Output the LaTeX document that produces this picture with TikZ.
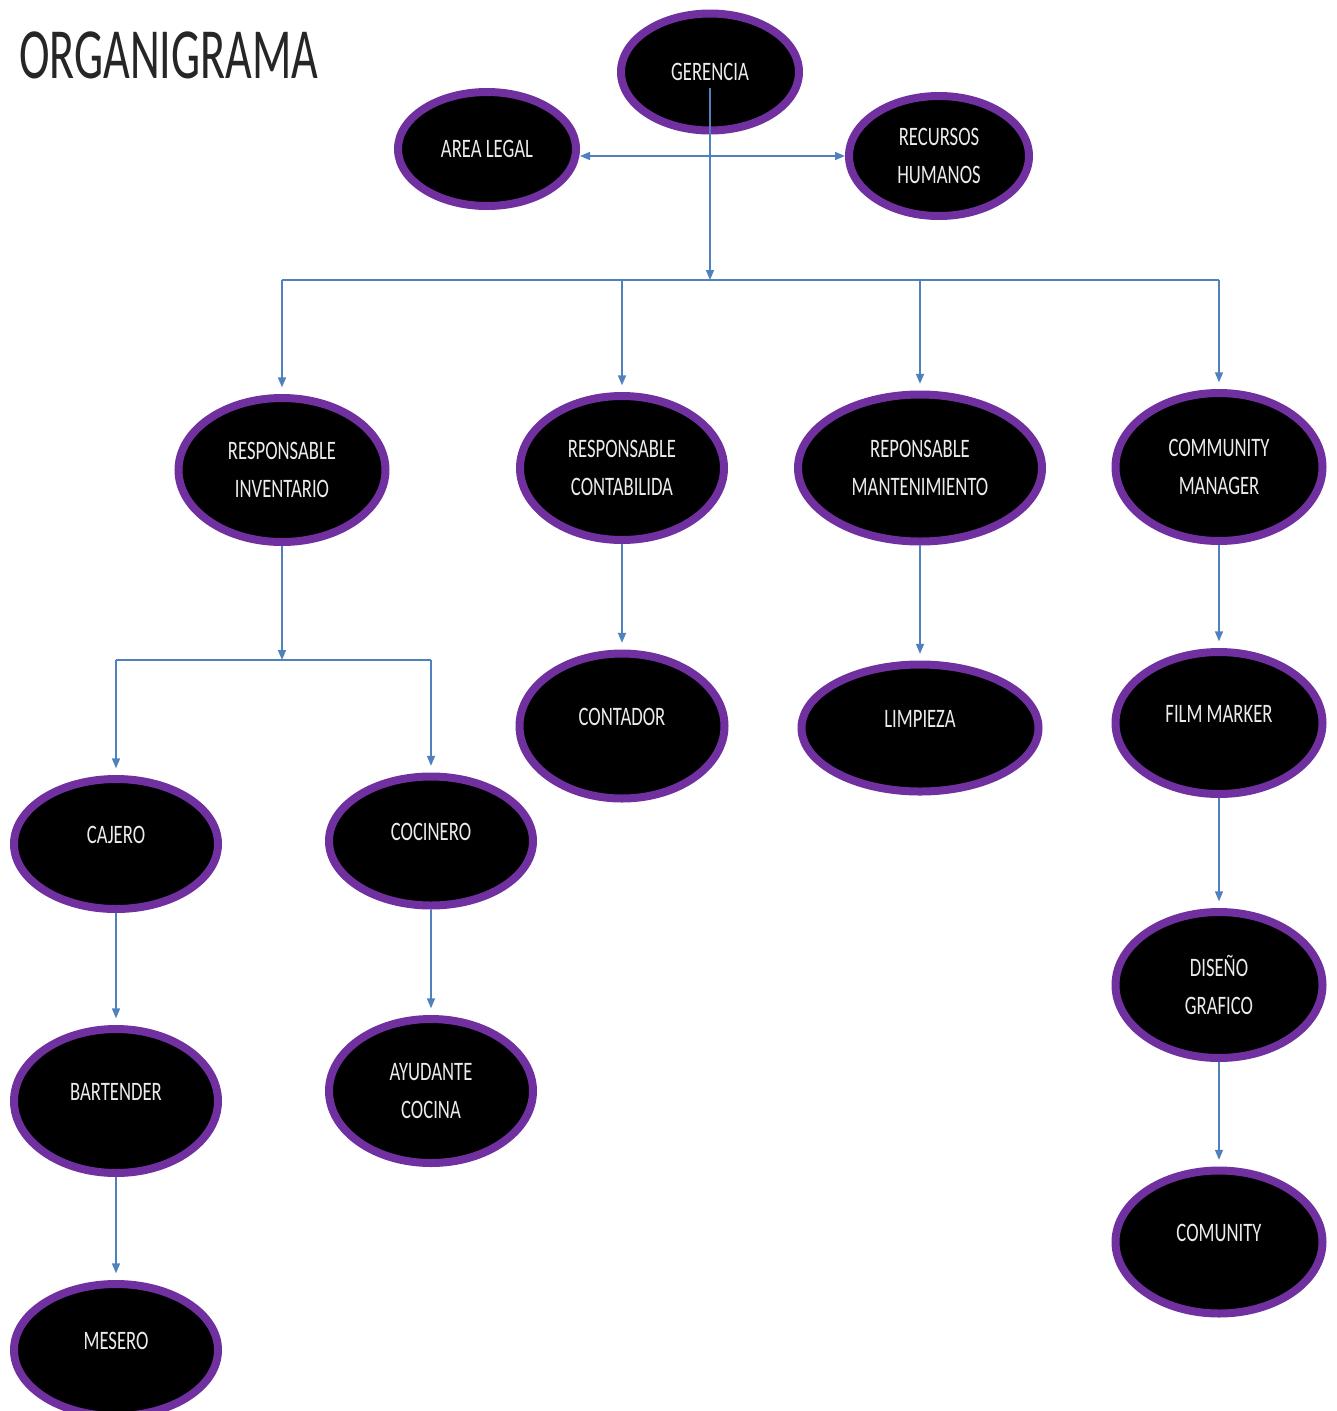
\documentclass[tikz,border=0pt]{standalone}
\usepackage{fontspec}
\setmainfont{Carlito}
\newfontfamily\organfont[FakeStretch=0.7]{Carlito}
\newfontfamily\titulofont[FakeStretch=0.64]{Carlito}
\usetikzlibrary{shapes.geometric,arrows.meta}
\definecolor{morado}{RGB}{112,48,160}
\definecolor{azulflecha}{RGB}{79,129,189}
\definecolor{letra}{RGB}{235,235,235}

\begin{document}
\begin{tikzpicture}[x=0.75pt,y=0.75pt,yscale=-1,xscale=1,
  puesto/.style 2 args={ellipse, draw=morado, line width=6pt, fill=black, text=letra, inner sep=0pt, minimum width=#1pt, minimum height=#2pt, align=center, font=\organfont\fontsize{20}{28}\selectfont},
  arriba/.style={text depth=14pt},
  flecha/.style={draw=azulflecha, line width=1.1pt, -{Triangle[length=7.5pt,width=6pt]}},
  conn/.style={flecha, shorten >=5pt},
  linea/.style={draw=azulflecha, line width=1.1pt}]
\useasboundingbox (0,0) rectangle (1337,1411);

\node [anchor=base west, inner sep=0pt, text=black!85, font=\titulofont\fontsize{54}{60}\selectfont] (titulo) at (19,78) {ORGANIGRAMA};

\node [puesto={133.5}{87.75}] (ger) at (710,72) {GERENCIA};
\node [puesto={133.5}{85.5}] (legal) at (487,149) {AREA LEGAL};
\node [puesto={135}{90}] (rrhh) at (939,156) {RECURSOS\\HUMANOS};

\node [puesto={155.25}{108}] (inv) at (282,470) {RESPONSABLE\\INVENTARIO};
\node [puesto={153}{108}] (cont) at (622,468) {RESPONSABLE\\CONTABILIDA};
\node [puesto={183}{110.25}] (mant) at (920,468) {REPONSABLE\\MANTENIMIENTO};
\node [puesto={155.25}{111}] (cm) at (1219,467) {COMMUNITY\\MANAGER};

\node [puesto={153.75}{108.75},arriba] (contador) at (622,726) {CONTADOR};
\node [puesto={177.75}{95.25},arriba] (limp) at (920,728) {LIMPIEZA};
\node [puesto={155.25}{106.5},arriba] (film) at (1219,723) {FILM MARKER};

\node [puesto={153}{97.5},arriba] (cajero) at (116,844) {CAJERO};
\node [puesto={153}{96.75},arriba] (cocinero) at (431,841) {COCINERO};
\node [puesto={155.25}{109.5}] (diseno) at (1219,985) {DISEÑO\\GRAFICO};

\node [puesto={153}{108},arriba] (bartender) at (116,1101) {BARTENDER};
\node [puesto={153}{108}] (ayudante) at (431,1091) {AYUDANTE\\COCINA};
\node [puesto={155.25}{107.25},arriba] (comunity) at (1219,1242) {COMUNITY};
\node [puesto={153}{99},arriba] (mesero) at (116,1350) {MESERO};

\coordinate (bus1) at (710,280);
\coordinate (bus2) at (282,660);

\draw [flecha] ([yshift=12pt]ger.center) -- (bus1);
\draw [flecha, {Triangle[length=7.5pt,width=6pt]}-{Triangle[length=7.5pt,width=6pt]}] (legal.east |- rrhh.west) -- (rrhh.west);
\draw [linea] (inv |- bus1) -- (cm |- bus1);
\foreach \n in {inv,cont,mant,cm}
  \draw [conn] (\n |- bus1) -- (\n);

\draw [flecha] (inv) -- (bus2);
\draw [linea] (cajero |- bus2) -- (cocinero |- bus2);
\foreach \n in {cajero,cocinero}
  \draw [conn] (\n |- bus2) -- (\n);

\foreach \a/\b in {cont/contador,mant/limp,cm/film,film/diseno,diseno/comunity,cajero/bartender,bartender/mesero,cocinero/ayudante}
  \draw [conn] (\a) -- (\b);
\end{tikzpicture}
\end{document}
